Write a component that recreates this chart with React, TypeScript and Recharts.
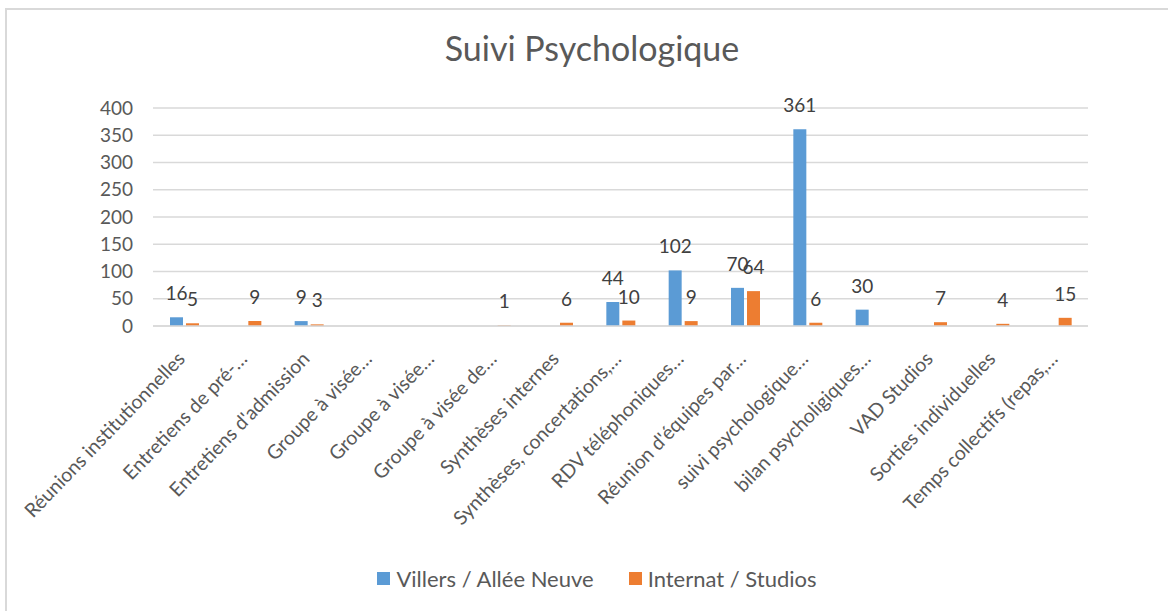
import React from 'react';
import { BarChart, Bar, XAxis, YAxis, CartesianGrid, Legend, LabelList, Customized } from 'recharts';

const categories = [
  'Réunions institutionnelles',
  'Entretiens de pré-…',
  "Entretiens d'admission",
  'Groupe à visée…',
  'Groupe à visée…',
  'Groupe à visée de…',
  'Synthèses internes',
  'Synthèses, concertations,…',
  'RDV téléphoniques…',
  "Réunion d'équipes par…",
  'suivi psychologique…',
  'bilan psycholigiques…',
  'VAD Studios',
  'Sorties individuelles',
  'Temps collectifs (repas,…',
];
const villers: (number | null)[] = [16, null, 9, null, null, null, null, 44, 102, 70, 361, 30, null, null, null];
const internat: (number | null)[] = [5, 9, 3, null, null, 1, 6, 10, 9, 64, 6, null, 7, 4, 15];
const yTicks = [0, 50, 100, 150, 200, 250, 300, 350, 400];
const seriesNames = ['Villers / Allée Neuve', 'Internat / Studios'];
const colors = ['#5B9BD5', '#ED7D31'];
const title = 'Suivi Psychologique';

const data = categories.map((c, i) => ({ name: c, villers: villers[i], internat: internat[i] }));

const FONT = 'Lato, "Open Sans", sans-serif';

const XTick = (props: any) => {
  const { x, y, payload } = props;
  const ax = x + 2;
  const ay = y + 26;
  return (
    <text
      x={ax}
      y={ay}
      transform={`rotate(-46, ${ax}, ${ay})`}
      textAnchor="end"
      fontSize={19.5}
      fill="#595959"
      fontFamily={FONT}
    >
      {payload.value}
    </text>
  );
};

const LegendContent = () => (
  <div style={{ display: 'flex', justifyContent: 'center', alignItems: 'center', fontFamily: FONT, fontSize: 22, color: '#595959', height: 30, paddingLeft: 26 }}>
    {seriesNames.map((n, i) => (
      <div key={n} style={{ display: 'flex', alignItems: 'center', marginRight: i === 0 ? 35 : 0 }}>
        <span style={{ display: 'inline-block', width: 13, height: 13, background: colors[i], marginRight: 6 }} />
        <span>{n}</span>
      </div>
    ))}
  </div>
);

const Title = () => (
  <text x={592} y={61} textAnchor="middle" fontSize={34} fill="#595959" fontFamily={FONT}>
    {title}
  </text>
);

export default function App() {
  return (
    <div style={{ position: 'absolute', left: 0, top: 0, width: 1168, height: 611, background: '#fff', overflow: 'hidden' }}>
      <div style={{ position: 'absolute', left: 5, top: 8, width: 1180, height: 620, border: '2px solid #d9d9d9', boxSizing: 'border-box' }} />
      <div style={{ position: 'absolute', left: 0, top: 0 }}>
        <BarChart
          width={1168}
          height={611}
          data={data}
          margin={{ top: 108, right: 80, left: 0, bottom: 18 }}
          barGap={3}
          barSize={13}
        >
          <CartesianGrid vertical={false} stroke="#d9d9d9" strokeWidth={1.5} />
          <XAxis
            dataKey="name"
            interval={0}
            tick={<XTick />}
            tickLine={false}
            axisLine={{ stroke: '#d9d9d9', strokeWidth: 1.5 }}
            height={237}
          />
          <YAxis
            domain={[0, 400]}
            ticks={yTicks}
            width={153}
            tickLine={false}
            axisLine={false}
            tickSize={0}
            tickMargin={20}
            tick={{ fontSize: 19, fill: '#595959', fontFamily: FONT }}
          />
          <Legend verticalAlign="bottom" content={<LegendContent />} wrapperStyle={{ height: 30, left: 0, width: 1168 }} />
          <Bar dataKey="villers" name={seriesNames[0]} fill={colors[0]} isAnimationActive={false}>
            <LabelList dataKey="villers" position="top" offset={17} fontSize={19} fill="#404040" fontFamily={FONT} />
          </Bar>
          <Bar dataKey="internat" name={seriesNames[1]} fill={colors[1]} isAnimationActive={false}>
            <LabelList dataKey="internat" position="top" offset={17} fontSize={19} fill="#404040" fontFamily={FONT} />
          </Bar>
          <Customized component={Title} />
        </BarChart>
      </div>
    </div>
  );
}
